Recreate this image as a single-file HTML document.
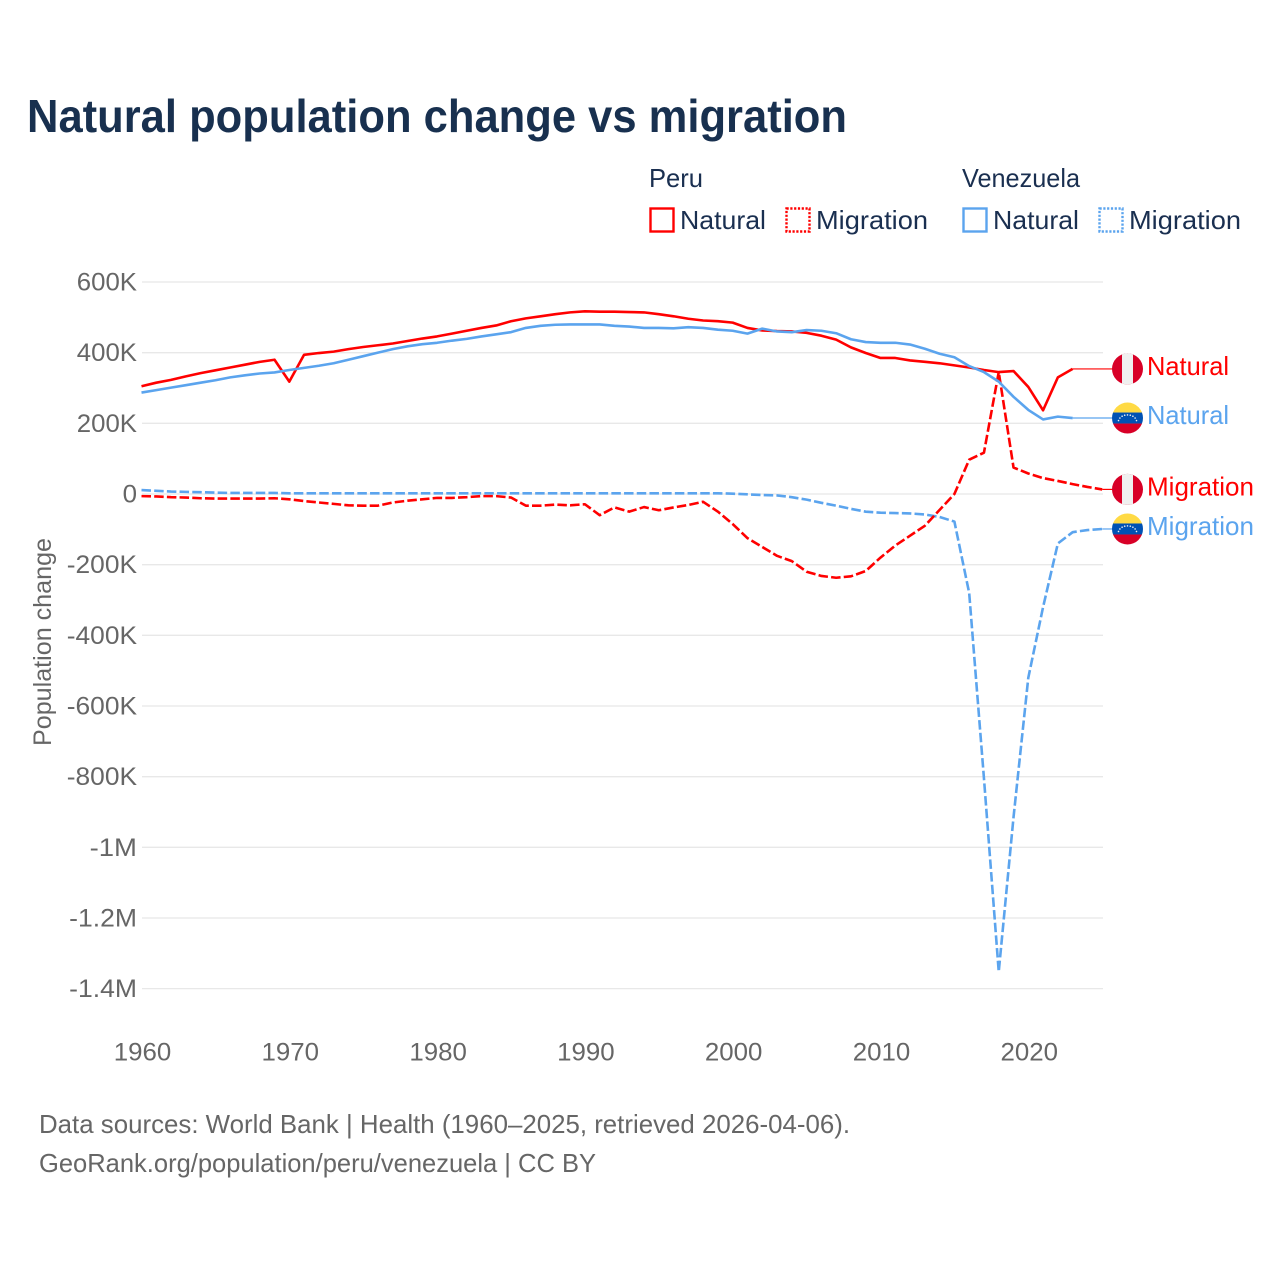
<!DOCTYPE html>
<html lang="en">
<head>
<meta charset="utf-8">
<title>Natural population change vs migration</title>
<style>
  html, body { margin: 0; padding: 0; background: #fff; }
  svg { display: block; font-family: "Liberation Sans", sans-serif; }
</style>
</head>
<body>
<svg id="chart" xmlns="http://www.w3.org/2000/svg" width="1280" height="1280" viewBox="0 0 1280 1280">
  <defs>
    <clipPath id="flag-clip"><circle cx="0" cy="0" r="15.5"></circle></clipPath>
    <g id="flag-peru" clip-path="url(#flag-clip)">
      <rect x="-16" y="-16" width="32" height="32" fill="#d80027"></rect>
      <rect x="-5.5" y="-16" width="11" height="32" fill="#f0f0f0"></rect>
    </g>
    <g id="flag-venezuela" clip-path="url(#flag-clip)">
      <rect x="-16" y="-16" width="32" height="10.5" fill="#ffda44"></rect>
      <rect x="-16" y="-5.5" width="32" height="11" fill="#0052b4"></rect>
      <rect x="-16" y="5.5" width="32" height="11" fill="#d80027"></rect>
      <g fill="#f0f0f0">
        <circle cx="-9" cy="2.5" r=".8"></circle><circle cx="-7.6" cy="0" r=".8"></circle>
        <circle cx="-5.4" cy="-1.8" r=".8"></circle><circle cx="-2.8" cy="-2.8" r=".8"></circle>
        <circle cx="0" cy="-3.1" r=".8"></circle><circle cx="2.8" cy="-2.8" r=".8"></circle>
        <circle cx="5.4" cy="-1.8" r=".8"></circle><circle cx="7.6" cy="0" r=".8"></circle>
        <circle cx="9" cy="2.5" r=".8"></circle>
      </g>
    </g>
  </defs>

  <rect x="0" y="0" width="1280" height="1280" fill="#ffffff"></rect>

  <text x="27" y="132" font-size="46" font-weight="700" fill="#18304f" textLength="820" lengthAdjust="spacingAndGlyphs">Natural population change vs migration</text>

  <g font-size="26" fill="#1a2f50">
    <text x="649" y="187" textLength="54" lengthAdjust="spacingAndGlyphs">Peru</text>
    <text x="962" y="187" textLength="118" lengthAdjust="spacingAndGlyphs">Venezuela</text>

    <rect x="650.5" y="208.5" width="23" height="23" fill="none" stroke="#ff0000" stroke-width="2.4"></rect>
    <text x="680" y="229" textLength="86" lengthAdjust="spacingAndGlyphs">Natural</text>
    <rect x="786.5" y="208.5" width="23" height="23" fill="none" stroke="#ff0000" stroke-width="2.4" stroke-dasharray="2.2 1.6"></rect>
    <text x="816" y="229" textLength="112" lengthAdjust="spacingAndGlyphs">Migration</text>

    <rect x="963.5" y="208.5" width="23" height="23" fill="none" stroke="#5ba4ee" stroke-width="2.4"></rect>
    <text x="993" y="229" textLength="86" lengthAdjust="spacingAndGlyphs">Natural</text>
    <rect x="1099.5" y="208.5" width="23" height="23" fill="none" stroke="#5ba4ee" stroke-width="2.4" stroke-dasharray="2.2 1.6"></rect>
    <text x="1129" y="229" textLength="112" lengthAdjust="spacingAndGlyphs">Migration</text>
  </g>

  <g id="grid"></g>
  <g id="y-axis"></g>
  <g id="x-axis"></g>
  <g id="series"></g>
  <g id="end-labels"></g>

  <text transform="translate(51,642) rotate(-90)" text-anchor="middle" font-size="25" fill="#666666" textLength="208" lengthAdjust="spacingAndGlyphs">Population change</text>

  <text x="39" y="1133" font-size="26" fill="#666666" textLength="811" lengthAdjust="spacingAndGlyphs">Data sources: World Bank | Health (1960–2025, retrieved 2026-04-06).</text>
  <text x="39" y="1172" font-size="26" fill="#666666" textLength="557" lengthAdjust="spacingAndGlyphs">GeoRank.org/population/peru/venezuela | CC BY</text>
</svg>

<script>
// Data, in thousands of people per year, starting at startYear
const startYear = 1960;
const peruNatural = [305,315,323,333,342,350,358,366,374,380,318,394,399,403,410,416,421,426,433,440,446,454,462,470,477,489,497,503,509,514,517,516,516,515,514,509,503,496,491,489,485,470,463,461,460,456,448,437,415,399,385,385,378,374,370,364,358,351,345,348,303,237,330,354];
const venezuelaNatural = [287,294,301,308,315,322,330,336,341,344,351,357,363,370,380,390,400,410,418,424,428,434,439,446,452,458,470,476,479,480,480,480,476,474,470,470,469,472,470,465,462,454,468,460,458,464,462,455,438,430,428,428,423,411,397,387,362,345,318,275,238,211,219,215];
const peruMigration = [-6,-7,-9,-10,-12,-13,-13,-13,-13,-12,-15,-20,-24,-28,-32,-33,-33,-24,-19,-15,-11,-11,-9,-6,-6,-10,-33,-33,-30,-32,-29,-60,-38,-50,-37,-46,-38,-31,-22,-50,-85,-125,-150,-175,-190,-220,-232,-237,-233,-218,-180,-146,-118,-90,-45,0,97,117,345,75,58,45,37,28,20,13];
const venezuelaMigration = [11,9,7,6,5,4,3,3,3,3,2,2,2,2,2,2,2,2,2,2,2,2,2,2,2,2,2,2,2,2,2,2,2,2,2,2,2,2,2,2,1,-1,-3,-4,-9,-16,-25,-33,-42,-50,-53,-54,-55,-58,-65,-78,-280,-805,-1352,-915,-520,-320,-140,-108,-102,-99];

const yTickValues = [600,400,200,0,-200,-400,-600,-800,-1000,-1200,-1400];
const yTickLabels = ["600K","400K","200K","0","-200K","-400K","-600K","-800K","-1M","-1.2M","-1.4M"];
const xTickValues = [1960,1970,1980,1990,2000,2010,2020];
const endLabelText = ["Natural","Natural","Migration","Migration"];

function xScale(year) { return 141.5 + (year - 1960) * 14.78; }
function yScale(v) { return 494 - v * 0.35333; }

const NS = "http://www.w3.org/2000/svg";
const RED = "#ff0000";
const BLUE = "#5ba4ee";
function make(tag, parent, attrs) {
  const el = document.createElementNS(NS, tag);
  for (const k in attrs) el.setAttribute(k, attrs[k]);
  parent.appendChild(el);
  return el;
}
function tickWidth(label) {
  let w = 0;
  for (const c of label) {
    if (c === "K") w += 17;
    else if (c === "M") w += 23;
    else if (c === "-") w += 10;
    else if (c === ".") w += 6;
    else w += 14.4;
  }
  return w;
}

const gridG = document.getElementById("grid");
const yG = document.getElementById("y-axis");
yTickValues.forEach(function (v, i) {
  const line = make("line", gridG, { x1: 142, x2: 1103, y1: yScale(v), y2: yScale(v), stroke: "#e8e8e8", "stroke-width": 1.3 });
  
  
  const t = make("text", yG, { x: 137, y: yScale(v) + 8.5, "text-anchor": "end", "font-size": 25, fill: "#666666", textLength: tickWidth(yTickLabels[i]), lengthAdjust: "spacingAndGlyphs" });
  
  
  t.textContent = yTickLabels[i];
});

const xG = document.getElementById("x-axis");
xTickValues.forEach(function (yr) {
  const t = make("text", xG, { x: xScale(yr) + 1, y: 1060.5, "text-anchor": "middle", "font-size": 25, fill: "#666666", textLength: 57.5, lengthAdjust: "spacingAndGlyphs" });
  
  
  t.textContent = String(yr);
});

function pathFrom(values) {
  return values.map(function (v, i) {
    return (i ? "L" : "M") + xScale(startYear + i).toFixed(2) + " " + yScale(v).toFixed(2);
  }).join("");
}
const seriesG = document.getElementById("series");
const endG = document.getElementById("end-labels");

function drawLine(values, color, dash) {
  const p = make("path", seriesG, { d: pathFrom(values), fill: "none", stroke: color, "stroke-width": 2.6, "stroke-linejoin": "round" });
  if (dash) p.setAttribute("stroke-dasharray", "9.5 3.2");
  return p;
}

function drawEnd(values, color, flagId, text, width) {
  const lastY = yScale(values[values.length - 1]);
  const lastX = xScale(startYear + values.length - 1);
  const conn = make("line", endG, { x1: lastX, x2: 1113, y1: lastY, y2: lastY, stroke: color, "stroke-width": 1.2 });
  
  
  const flag = make("use", endG, { href: "#" + flagId, transform: "translate(1127.5," + lastY + ")" });
  
  
  const t = make("text", endG, { x: 1147, y: lastY + 6, "font-size": 26, fill: color, textLength: width, lengthAdjust: "spacingAndGlyphs" });
  
  
  t.textContent = text;
}

const lineVenMig = drawLine(venezuelaMigration, BLUE, true);


const linePeruMig = drawLine(peruMigration, RED, true);


const linePeruNat = drawLine(peruNatural, RED, false);


const lineVenNat = drawLine(venezuelaNatural, BLUE, false);



drawEnd(peruNatural, RED, "flag-peru", endLabelText[0], 82);
drawEnd(venezuelaNatural, BLUE, "flag-venezuela", endLabelText[1], 82);
drawEnd(peruMigration, RED, "flag-peru", endLabelText[2], 107);
drawEnd(venezuelaMigration, BLUE, "flag-venezuela", endLabelText[3], 107);
</script>
</body>
</html>
